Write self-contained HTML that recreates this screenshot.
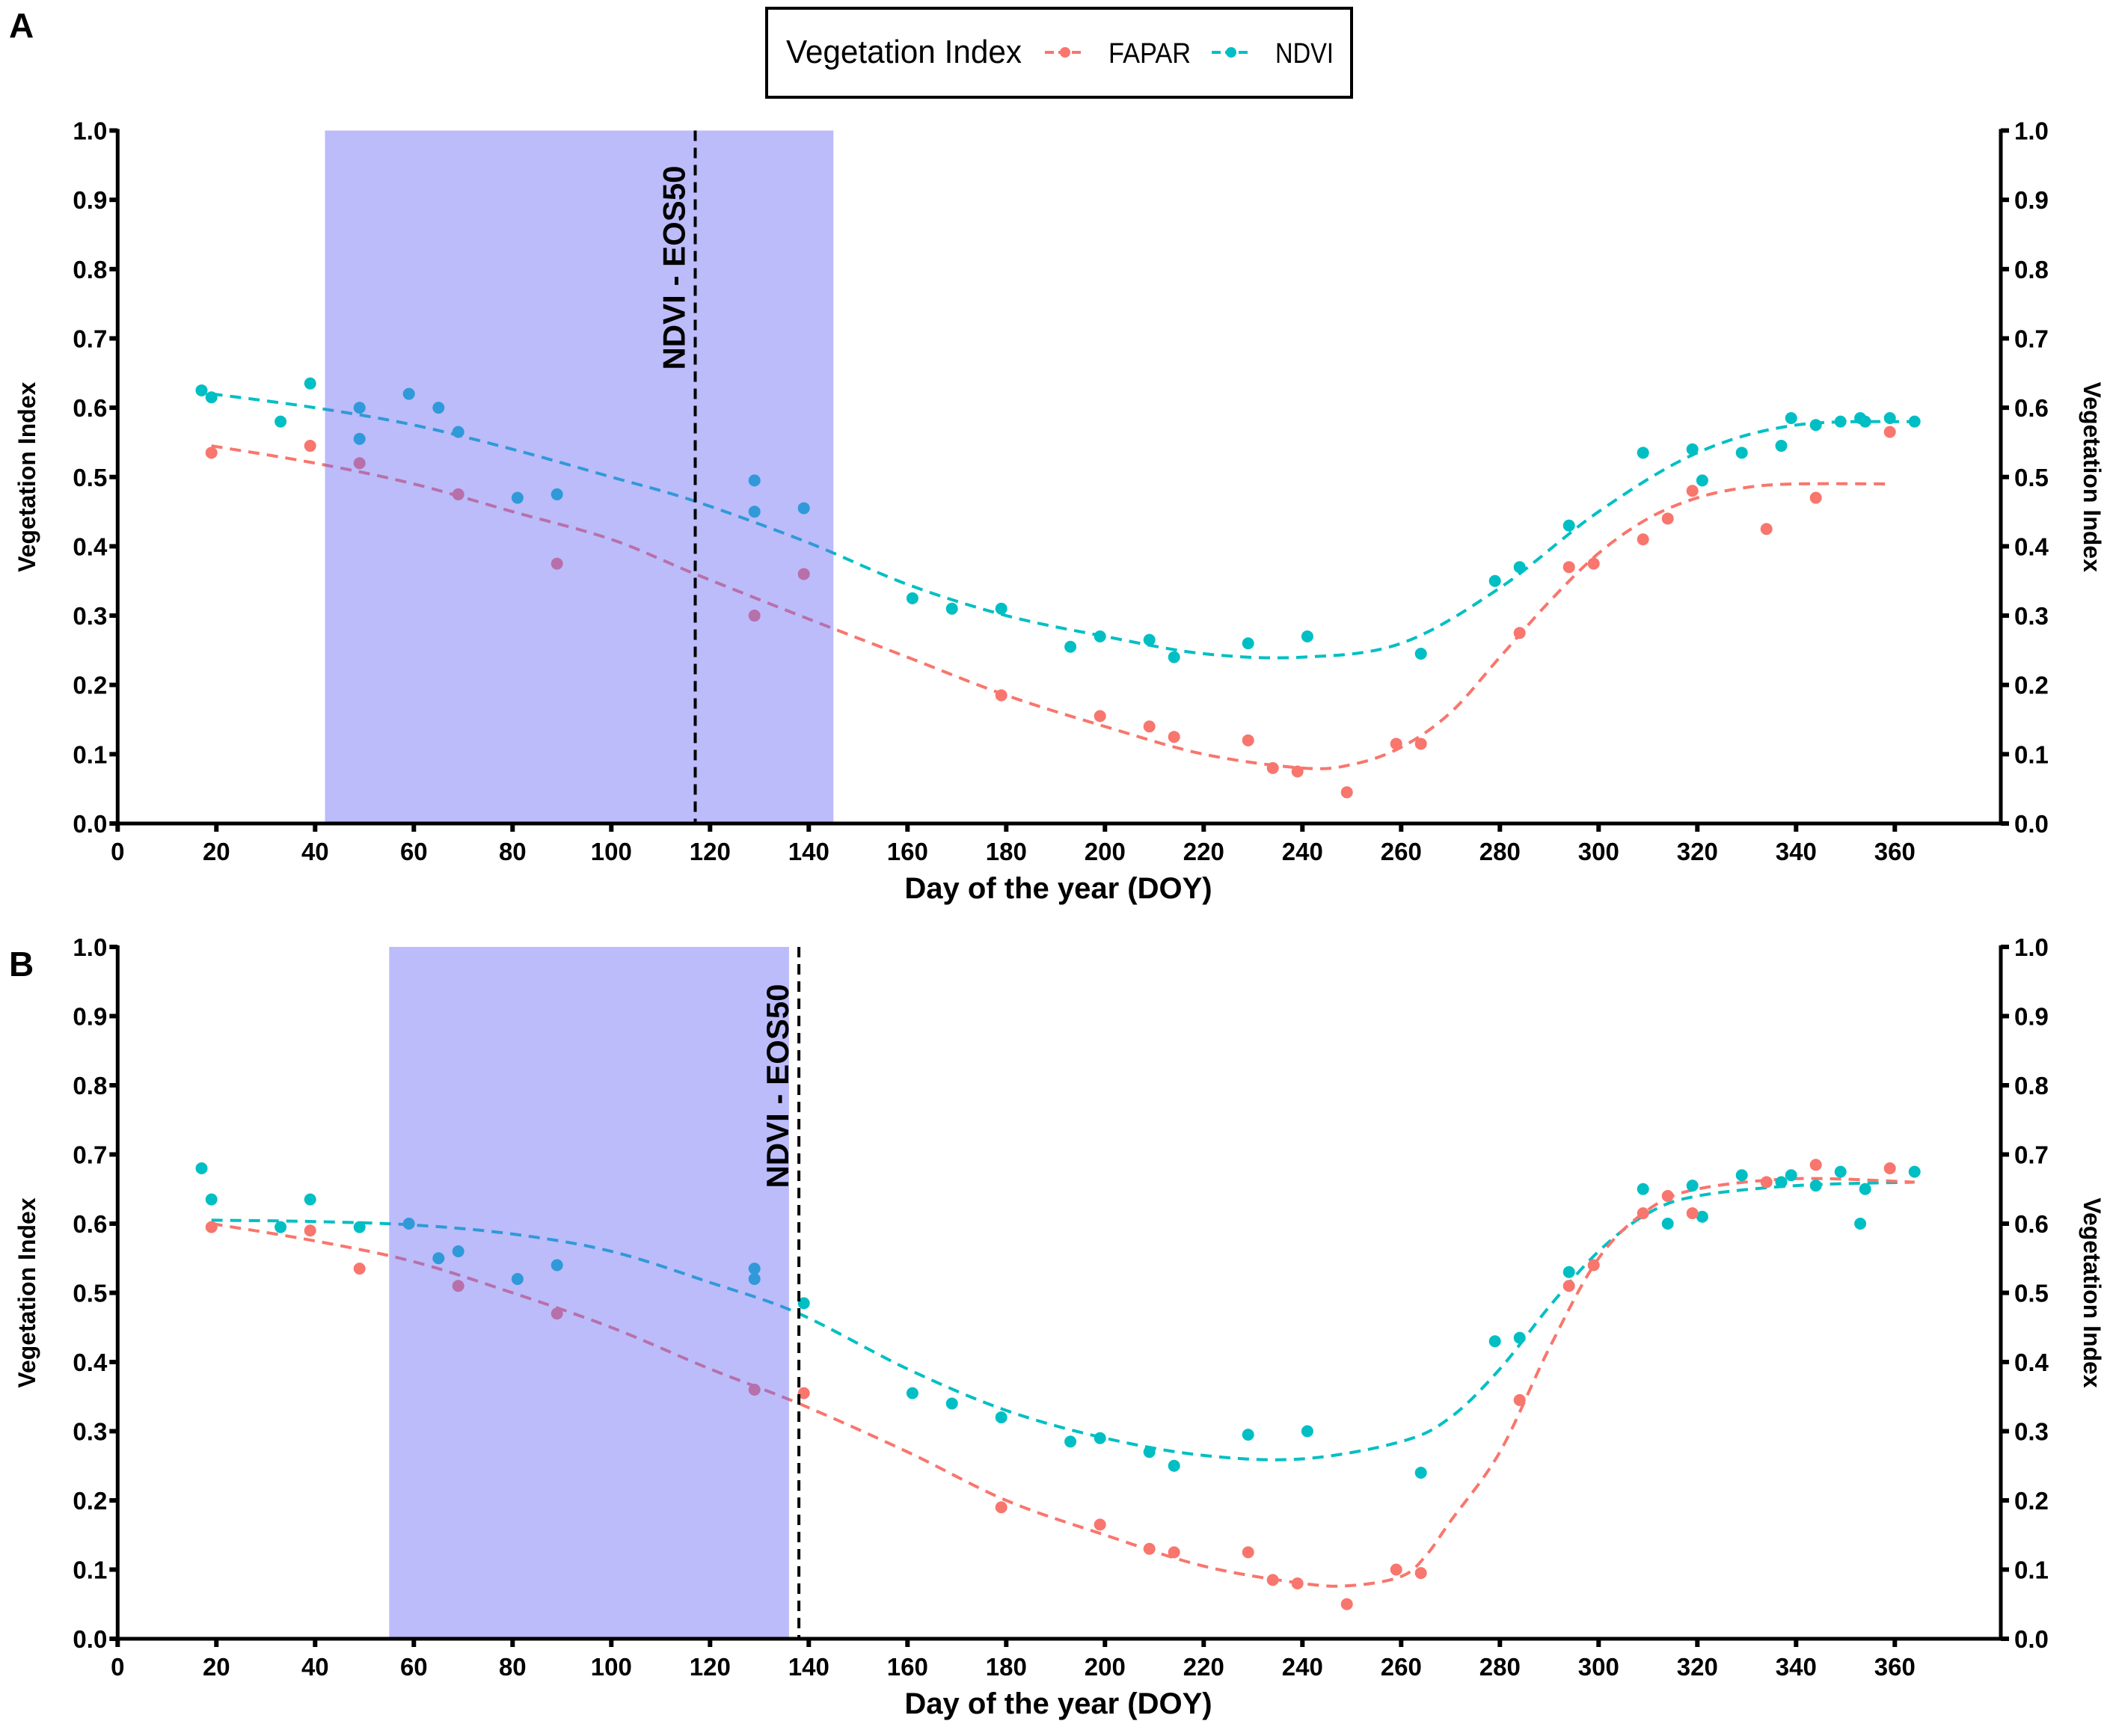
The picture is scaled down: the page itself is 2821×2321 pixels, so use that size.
<!DOCTYPE html>
<html><head><meta charset="utf-8"><style>
html,body{margin:0;padding:0;background:#fff;}
svg{display:block;font-family:"Liberation Sans",Arial,sans-serif;}
</style></head><body>
<svg id="chart" width="2821" height="2321" viewBox="0 0 2821 2321" xmlns="http://www.w3.org/2000/svg">
<g id="legend">
  <rect x="1025" y="11" width="782" height="119" fill="#fff" stroke="#000" stroke-width="4"/>
  <text x="1051" y="84" font-size="44" textLength="315" lengthAdjust="spacingAndGlyphs">Vegetation Index</text>
  <g>
    <line x1="1397" y1="70" x2="1450" y2="70" stroke="#f8766d" stroke-width="4" stroke-dasharray="12 6"/>
    <circle cx="1424" cy="70" r="7" fill="#f8766d"/>
    <text x="1482" y="84" font-size="38" textLength="110" lengthAdjust="spacingAndGlyphs">FAPAR</text>
  </g>
  <g>
    <line x1="1620" y1="70" x2="1672" y2="70" stroke="#00bfc4" stroke-width="4" stroke-dasharray="12 6"/>
    <circle cx="1646" cy="70" r="7" fill="#00bfc4"/>
    <text x="1705" y="84" font-size="38" textLength="78" lengthAdjust="spacingAndGlyphs">NDVI</text>
  </g>
</g>
</svg>
<script>
// ---- Panel A data ----
const ndviA_days = [17,19,33,39,49,49,59,65,69,81,89,129,129,139,161,169,179,193,199,209,214,229,241,264,279,284,294,309,319,321,329,337,339,344,349,353,354,359,364];
const ndviA_vals = [0.625,0.615,0.58,0.635,0.60,0.555,0.62,0.60,0.565,0.47,0.475,0.495,0.45,0.455,0.325,0.31,0.31,0.255,0.27,0.265,0.24,0.26,0.27,0.245,0.35,0.37,0.43,0.535,0.54,0.495,0.535,0.545,0.585,0.575,0.58,0.585,0.58,0.585,0.58];
const faparA_days = [19,39,49,69,89,129,139,179,199,209,214,229,234,239,249,259,264,284,294,299,309,314,319,334,344,359];
const faparA_vals = [0.535,0.545,0.52,0.475,0.375,0.30,0.36,0.185,0.155,0.14,0.125,0.12,0.08,0.075,0.045,0.115,0.115,0.275,0.37,0.375,0.41,0.44,0.48,0.425,0.47,0.565];
const ndviFitA_days = [19,40,60,80,100,117,140,160,180,200,220,240,260,280,300,320,340,364];
const ndviFitA_vals = [0.62,0.60,0.575,0.54,0.50,0.465,0.405,0.345,0.30,0.27,0.245,0.24,0.26,0.34,0.45,0.535,0.575,0.58];
const faparFitA_days = [19,40,60,80,100,117,140,160,180,200,220,240,250,260,270,280,290,300,310,320,330,340,359];
const faparFitA_vals = [0.545,0.52,0.49,0.45,0.41,0.36,0.295,0.24,0.185,0.14,0.10,0.08,0.085,0.11,0.16,0.24,0.32,0.39,0.44,0.47,0.485,0.49,0.49];
const shadeA = [42,145];
const eosA = 117;
// ---- Panel B data ----
const ndviB_days = [17,19,33,39,49,59,65,69,81,89,129,129,139,161,169,179,193,199,209,214,229,241,264,279,284,294,309,314,319,321,329,337,339,344,349,353,354,364];
const ndviB_vals = [0.68,0.635,0.595,0.635,0.595,0.60,0.55,0.56,0.52,0.54,0.535,0.52,0.485,0.355,0.34,0.32,0.285,0.29,0.27,0.25,0.295,0.30,0.24,0.43,0.435,0.53,0.65,0.60,0.655,0.61,0.67,0.66,0.67,0.655,0.675,0.60,0.65,0.675];
const faparB_days = [19,39,49,69,89,129,139,179,199,209,214,229,234,239,249,259,264,284,294,299,309,314,319,334,344,359];
const faparB_vals = [0.595,0.59,0.535,0.51,0.47,0.36,0.355,0.19,0.165,0.13,0.125,0.125,0.085,0.08,0.05,0.10,0.095,0.345,0.51,0.54,0.615,0.64,0.615,0.66,0.685,0.68];
const ndviFitB_days = [19,40,60,80,100,120,138,160,180,200,220,240,260,270,280,290,300,310,320,340,364];
const ndviFitB_vals = [0.605,0.603,0.598,0.585,0.56,0.515,0.47,0.39,0.33,0.29,0.265,0.26,0.285,0.32,0.39,0.48,0.56,0.615,0.64,0.655,0.66];
const faparFitB_days = [19,40,60,80,100,120,138,160,180,200,220,240,250,260,265,270,280,290,300,310,320,340,364];
const faparFitB_vals = [0.60,0.575,0.545,0.50,0.45,0.39,0.34,0.27,0.20,0.15,0.105,0.08,0.077,0.09,0.12,0.17,0.27,0.42,0.55,0.62,0.65,0.665,0.66];
const shadeB = [55,136];
const eosB = 138;
const xTicks = [0,20,40,60,80,100,120,140,160,180,200,220,240,260,280,300,320,340,360];
const yTicks = [0.0,0.1,0.2,0.3,0.4,0.5,0.6,0.7,0.8,0.9,1.0];

const NS = "http://www.w3.org/2000/svg";
const svg = document.getElementById('chart');
function mk(tag, attrs, parent){ const e=document.createElementNS(NS,tag); for(const k in attrs) e.setAttribute(k,attrs[k]); (parent||svg).appendChild(e); return e; }
const X0=157.3, PXD=6.6, XR=2675;
const xs = d => X0 + d*PXD;
const COL_F="#f8766d", COL_N="#00bfc4";

function smoothPath(pts){
  let d="M"+pts[0][0]+","+pts[0][1];
  for(let i=0;i<pts.length-1;i++){
    const p0=pts[Math.max(0,i-1)],p1=pts[i],p2=pts[i+1],p3=pts[Math.min(pts.length-1,i+2)];
    const c1=[p1[0]+(p2[0]-p0[0])/6,p1[1]+(p2[1]-p0[1])/6];
    const c2=[p2[0]-(p3[0]-p1[0])/6,p2[1]-(p3[1]-p1[1])/6];
    d+=" C"+c1[0]+","+c1[1]+" "+c2[0]+","+c2[1]+" "+p2[0]+","+p2[1];
  }
  return d;
}

function panel(p){
  const ys = v => p.y0 - v*(p.y0-p.y1);
  const g = mk('g',{});
  
  
  [[p.nfd,p.nfv,COL_N,'ndvi-fit-line'],[p.ffd,p.ffv,COL_F,'fapar-fit-line']].forEach(s=>{
    const pts=s[0].map((d,i)=>[xs(d),ys(s[1][i])]);
    const path=mk('path',{d:smoothPath(pts),fill:'none',stroke:s[2],'stroke-width':4,'stroke-dasharray':'15 10'},g);
    
    
  });
  [[p.nd,p.nv,COL_N,'ndvi-point'],[p.fd,p.fv,COL_F,'fapar-point']].forEach(s=>{
    s[0].forEach((d,i)=>{
      const c=mk('circle',{cx:xs(d),cy:ys(s[1][i]),r:8,fill:s[2]},g);
      
      
    });
  });
  const r=mk('rect',{x:xs(p.shade[0]),y:p.y1,width:xs(p.shade[1])-xs(p.shade[0]),height:p.y0-p.y1,fill:'rgb(106,106,245)','fill-opacity':0.45},g);
  
  
  const el=mk('line',{x1:xs(p.eos),x2:xs(p.eos),y1:p.y1,y2:p.y0,stroke:'#000','stroke-width':4,'stroke-dasharray':'14 9'},g);
  
  
  const et=mk('text',{x:0,y:0,'font-size':42,'font-weight':'bold','text-anchor':'middle',transform:'translate('+(xs(p.eos)-14)+','+p.eosY+') rotate(-90)'},g);
  et.textContent='NDVI - EOS50';
  
  
  mk('line',{x1:X0,x2:XR,y1:p.y0,y2:p.y0,stroke:'#000','stroke-width':5},g);
  mk('line',{x1:X0,x2:X0,y1:p.y1-2,y2:p.y0+2,stroke:'#000','stroke-width':5},g);
  mk('line',{x1:XR,x2:XR,y1:p.y1-2,y2:p.y0+2,stroke:'#000','stroke-width':5},g);
  xTicks.forEach(t=>{
    mk('line',{x1:xs(t),x2:xs(t),y1:p.y0,y2:p.y0+11,stroke:'#000','stroke-width':6},g);
    const tx=mk('text',{x:xs(t),y:p.y0+49,'font-size':33,'font-weight':'bold','text-anchor':'middle'},g);
    tx.textContent=t;
    
    
  });
  yTicks.forEach(t=>{
    const y=ys(t);
    mk('line',{x1:X0-11,x2:X0,y1:y,y2:y,stroke:'#000','stroke-width':6},g);
    mk('line',{x1:XR,x2:XR+11,y1:y,y2:y,stroke:'#000','stroke-width':6},g);
    const l=mk('text',{x:X0-14,y:y+12,'font-size':33,'font-weight':'bold','text-anchor':'end'},g);
    l.textContent=t.toFixed(1);
    
    
    const rr=mk('text',{x:XR+18,y:y+12,'font-size':33,'font-weight':'bold'},g);
    rr.textContent=t.toFixed(1);
    
    
  });
  const xt=mk('text',{x:1415,y:p.y0+100,'font-size':40,'font-weight':'bold','text-anchor':'middle'},g);
  xt.textContent='Day of the year (DOY)';
  
  
  const mid=(p.y0+p.y1)/2;
  const yl=mk('text',{x:0,y:0,'font-size':32,'font-weight':'bold','text-anchor':'middle',transform:'translate(47,'+mid+') rotate(-90)'},g);
  yl.textContent='Vegetation Index';
  
  
  const yr=mk('text',{x:0,y:0,'font-size':32,'font-weight':'bold','text-anchor':'middle',transform:'translate(2786,'+mid+') rotate(90)'},g);
  yr.textContent='Vegetation Index';
  
  
  const pl=mk('text',{x:12,y:p.labelY,'font-size':46,'font-weight':'bold'},g);
  pl.textContent=p.id;
  
  
}

panel({id:'A',y0:1101,y1:174.5,nd:ndviA_days,nv:ndviA_vals,fd:faparA_days,fv:faparA_vals,nfd:ndviFitA_days,nfv:ndviFitA_vals,ffd:faparFitA_days,ffv:faparFitA_vals,shade:shadeA,eos:eosA,eosY:358,labelY:50});
panel({id:'B',y0:2191,y1:1266,nd:ndviB_days,nv:ndviB_vals,fd:faparB_days,fv:faparB_vals,nfd:ndviFitB_days,nfv:ndviFitB_vals,ffd:faparFitB_days,ffv:faparFitB_vals,shade:shadeB,eos:eosB,eosY:1452,labelY:1305});
</script>
</body></html>
